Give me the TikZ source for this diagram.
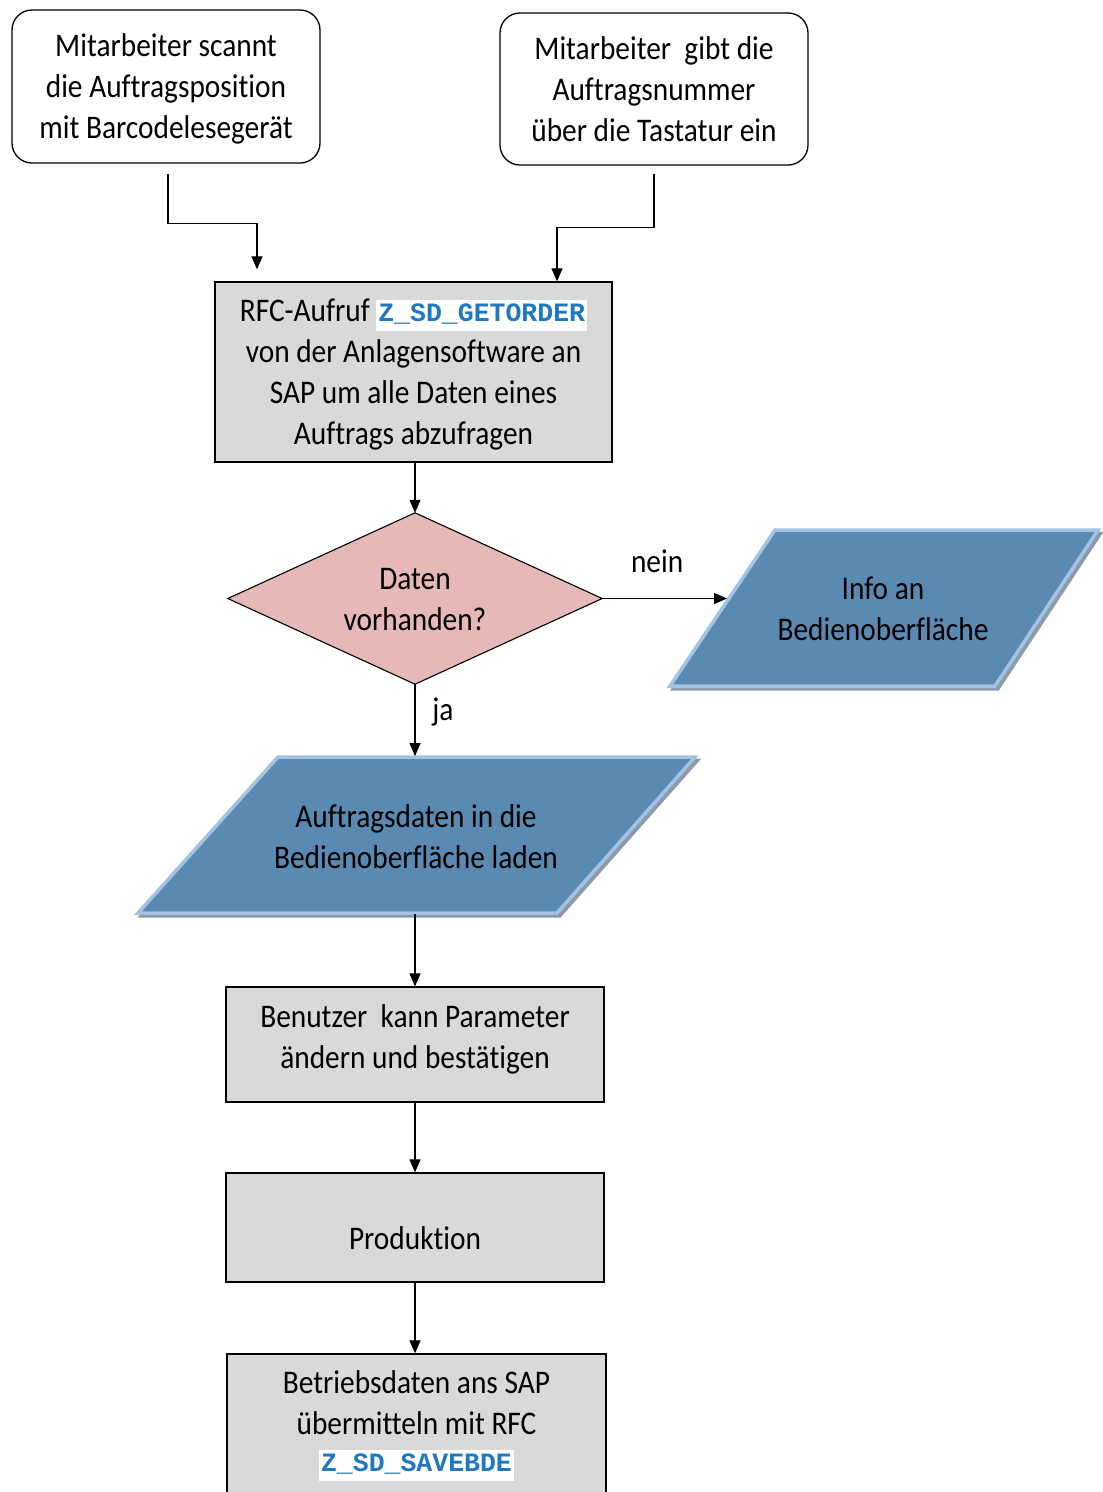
\documentclass[tikz,border=0pt]{standalone}
\usepackage{fontspec}
\setmainfont[FakeStretch=0.89,Ligatures=NoCommon]{Carlito}
\setmonofont{Liberation Mono}
\usetikzlibrary{shapes.geometric,arrows.meta,calc}
\definecolor{boxgray}{HTML}{D9D9D9}
\definecolor{diapink}{HTML}{E6B9B8}
\definecolor{parafill}{HTML}{5A8AB2}
\definecolor{paraedge}{HTML}{A3C3E2}
\definecolor{parashadow}{HTML}{8E9AAA}
\definecolor{codeblue}{HTML}{1F78C0}
\newcommand{\codetxt}[1]{{\setlength{\fboxsep}{2pt}\colorbox{white}{\rule[-7pt]{0pt}{27pt}\fontsize{26.5}{30}\selectfont\ttfamily\bfseries\textcolor{codeblue}{#1}}}}
\begin{document}
\begin{tikzpicture}[x=1pt,y=-1pt,
  txt/.style={font=\fontsize{33}{41}\selectfont, align=center, text=black},
  roundbox/.style={txt, draw=black, line width=1.3pt, rounded corners=20pt, inner sep=0pt, text depth=-5pt},
  graybox/.style={txt, draw=black, line width=1.3pt, fill=boxgray, inner sep=0pt},
  arr/.style={line width=1.1pt, -{Triangle[width=11pt,length=13pt]}},
  paraback/.style={fill=parashadow, draw=parashadow, line width=3pt},
  parafront/.style={fill=parafill, draw=paraedge, line width=3.5pt, line join=miter}
]
\clip (0,0) rectangle (1103,1492);
\fill[white] (0,0) rectangle (1103,1492);

% start boxes
\node[roundbox, minimum width=308pt, minimum height=153pt] (A) at (166,86.5)
  {Mitarbeiter scannt\\die Auftragsposition\\mit Barcodelesegerät};
\node[roundbox, minimum width=308pt, minimum height=152pt] (B) at (654,89)
  {Mitarbeiter\ \ gibt die\\Auftragsnummer\\über die Tastatur ein};

% RFC box
\node[graybox, minimum width=397pt, minimum height=180pt, text depth=-4pt] (C) at (413.5,372)
  {RFC-Aufruf \codetxt{Z\_SD\_GETORDER}\\von der Anlagensoftware an\\SAP um alle Daten eines\\Auftrags abzufragen};

% decision
\node[minimum width=374pt, minimum height=171pt, inner sep=0pt] (D) at (415,598.5) {};
\filldraw[fill=diapink, draw=black, line width=1.1pt] (D.north) -- (D.east) -- (D.south) -- (D.west) -- cycle;
\node[txt] (Dt) at (415,600) {Daten\\vorhanden?};

% parallelogram: info
\fill[paraback] (778,533) -- (1101,533) -- (998,689) -- (673,689) -- cycle;
\filldraw[parafront] (775,530) -- (1098,530) -- (995,686) -- (670,686) -- cycle;
\node[txt] (I) at (883,609) {Info an\\Bedienoberfläche};
\coordinate (Iw) at (727,598.5);

% parallelogram: load data
\fill[paraback] (281,760) -- (698,760) -- (560,916) -- (141,916) -- cycle;
\filldraw[parafront] (278,757) -- (695,757) -- (557,913) -- (138,913) -- cycle;
\node[txt] (E) at (416,837) {Auftragsdaten in die\\Bedienoberfläche laden};
\coordinate (En) at (415,756);
\coordinate (Es) at (415,914);

% lower boxes
\node[graybox, minimum width=378pt, minimum height=115pt] (F) at (415,1044.5) {};
\node[txt] (Ft) at (415,1039.5) {Benutzer\ \ kann Parameter\\ändern und bestätigen};
\node[graybox, minimum width=378pt, minimum height=109pt] (G) at (415,1227.5) {};
\node[txt] (Gt) at (415,1238) {Produktion};
\node[graybox, minimum width=379pt, minimum height=180pt] (H) at (416.5,1444) {};
\node[txt] (Ht) at (416.5,1426)
  {Betriebsdaten ans SAP\\übermitteln mit RFC\\[-4pt]\codetxt{Z\_SD\_SAVEBDE}};

% connectors
\coordinate (a1) at ($(A.south)+(2,10)$);
\coordinate (cA) at ($(C.north)+(-156.5,-12)$);
\draw[arr] (a1) |- ($(a1)!.52!(cA)$) -| (cA);
\coordinate (b1) at ($(B.south)+(0,8)$);
\coordinate (cB) at ($(C.north)+(143.5,0)$);
\draw[arr] (b1) |- ($(b1)!.5!(cB)$) -| (cB);
\draw[arr] (C.south -| D.north) -- (D.north);
\draw[arr] (D.east) -- (Iw) node[txt, pos=0.44, yshift=37pt] (nein) {nein};
\draw[arr] (D.south) -- (D.south |- En) node[txt, pos=0.38, xshift=28pt] (ja) {ja};
\draw[arr] (Es) -- (F.north);
\draw[arr] (F.south) -- (G.north);
\draw[arr] (G.south) -- (G.south |- H.north);
\end{tikzpicture}
\end{document}
